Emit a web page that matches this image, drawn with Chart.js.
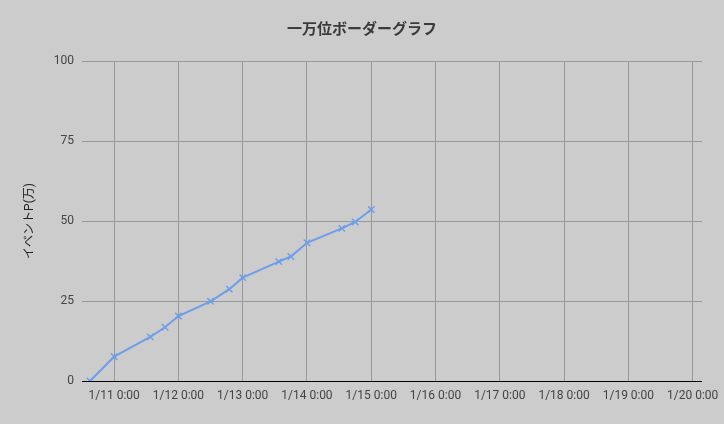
<!DOCTYPE html>
<html>
<head>
<meta charset="utf-8">
<script src="https://cdn.jsdelivr.net/npm/chart.js@4"></script>
<style>
  html, body { margin: 0; padding: 0; background: #cccccc; }
  #chart { display: block; }
</style>
</head>
<body>
<canvas id="chart" width="724" height="424"></canvas>
<script>
// 観測時刻 (月/日 時:分)
const times = ['1/10 15:00', '1/11 0:00', '1/11 13:30', '1/11 19:00', '1/12 0:00', '1/12 12:00', '1/12 19:00',
    '1/13 0:00', '1/13 13:30', '1/13 18:00', '1/14 0:00', '1/14 13:00', '1/14 18:00', '1/15 0:00'];
// イベントP (万)
const points = [0, 7.6, 13.8, 16.8, 20.3, 24.9, 28.7, 32.3, 37.3, 38.9, 43.2, 47.7, 49.7, 53.6];
// 横軸の目盛り
const tickLabels = ['1/11 0:00', '1/12 0:00', '1/13 0:00', '1/14 0:00', '1/15 0:00',
    '1/16 0:00', '1/17 0:00', '1/18 0:00', '1/19 0:00', '1/20 0:00'];
const yTicks = [0, 25, 50, 75, 100];

// "1/11 13:30" -> 1/11 0:00 からの経過時間
function toHours(label) {
    const [date, time] = label.split(' ');
    const day = parseInt(date.split('/')[1], 10);
    const [h, m] = time.split(':').map(Number);
    return (day - 11) * 24 + h + m / 60;
}

const lineColor = '#6d9eeb';
const fontFamily = "Roboto, 'Noto Sans CJK JP', sans-serif";

const ctx = document.getElementById('chart').getContext('2d');
new Chart(ctx, {
    type: 'line',
    data: {
        datasets: [{
            label: 'イベントP',
            data: times.map((t, i) => ({x: toHours(t), y: points[i]})),
            borderColor: lineColor,
            backgroundColor: lineColor,
            borderWidth: 2,
            pointStyle: 'crossRot',
            pointRadius: 4.5,
            pointBorderWidth: 1.5,
            tension: 0,
            fill: false
        }]
    },
    options: {
        responsive: false,
        animation: false,
        devicePixelRatio: 1,
        layout: {padding: 0},
        plugins: {
            legend: {display: false},
            tooltip: {enabled: false},
            title: {
                display: true,
                text: '一万位ボーダーグラフ',
                color: '#3a3a3a',
                font: {family: fontFamily, size: 15, weight: 'bold'},
                padding: {top: 21, bottom: 22}
            }
        },
        scales: {
            x: {
                type: 'linear',
                min: -12,
                max: 219.5,
                afterBuildTicks: scale => {
                    scale.ticks = tickLabels.map(l => ({value: toHours(l)}));
                },
                afterFit: scale => {
                    scale.height = 43;
                    scale.paddingLeft = 0;
                    scale.paddingRight = 0;
                },
                grid: {color: '#999999', lineWidth: 1, drawTicks: false},
                border: {display: false},
                ticks: {
                    color: '#444444',
                    font: {family: fontFamily, size: 12},
                    padding: 8,
                    maxRotation: 0,
                    autoSkip: false,
                    callback: (value, index) => tickLabels[index]
                }
            },
            y: {
                min: 0,
                max: 100,
                afterBuildTicks: scale => {
                    scale.ticks = yTicks.map(v => ({value: v}));
                },
                afterFit: scale => { scale.width = 82; },
                grid: {
                    color: c => c.tick && c.tick.value === 0 ? '#000000' : '#999999',
                    lineWidth: 1,
                    drawTicks: false
                },
                border: {display: false},
                ticks: {
                    color: '#444444',
                    font: {family: fontFamily, size: 12},
                    padding: 8
                },
                title: {
                    display: true,
                    text: 'イベントP(万)',
                    color: '#222222',
                    font: {family: fontFamily, size: 12},
                    padding: {top: 23, bottom: 0}
                }
            },
            // 右側の余白用 (表示なし)
            yRight: {
                position: 'right',
                min: 0,
                max: 100,
                afterFit: scale => { scale.width = 22; },
                grid: {display: false},
                border: {display: false},
                ticks: {display: false}
            }
        }
    }
});
</script>
</body>
</html>
